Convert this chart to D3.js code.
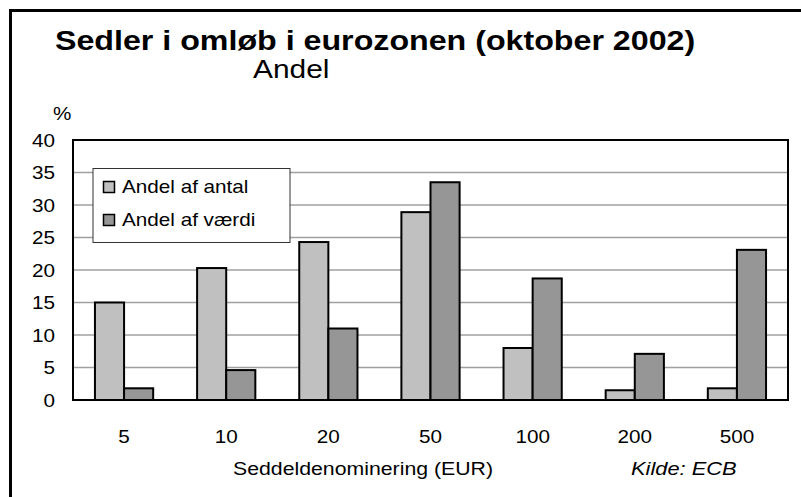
<!DOCTYPE html>
<html><head><meta charset="utf-8">
<script src="https://cdn.jsdelivr.net/npm/d3@7"></script>
<style>
html,body{margin:0;padding:0;background:#fff;}
svg{display:block;font-family:"Liberation Sans",Arial,sans-serif;}
</style></head>
<body>
<svg id="chart" width="801" height="497"></svg>
<script>
const categories = ["5","10","20","50","100","200","500"];
const seriesNames = ["Andel af antal","Andel af værdi"];
const antal = [15.0, 20.3, 24.3, 28.9, 8.0, 1.5, 1.8];
const vaerdi = [1.8, 4.6, 11.0, 33.5, 18.7, 7.1, 23.1];
const yTicks = [0,5,10,15,20,25,30,35,40];
const colors = ["#c0c0c0","#969696"];

const SX = 1.15;
const svg = d3.select("#chart");
const L = 73, R = 788, T = 140, B = 400;

const x = d3.scaleBand().domain(categories).range([L,R]).paddingInner(0.43).paddingOuter(0.215);
const xs = d3.scaleBand().domain(seriesNames).range([0, x.bandwidth()]);
const y = d3.scaleLinear().domain([0,40]).range([B,T]);

// outer frame (left + top)
svg.append("path").attr("d","M10.5,497 L10.5,10.5 L801,10.5").attr("fill","none").attr("stroke","#000").attr("stroke-width",3);

function txt(s, xPos, yPos, size, opts={}) {
  return svg.append("text")
    .attr("transform",`translate(${xPos},${yPos}) scale(${SX},1)`)
    .attr("font-size",size)
    .attr("font-weight",opts.bold?"bold":"normal")
    .attr("font-style",opts.italic?"italic":"normal")
    .attr("text-anchor",opts.anchor||"start")
    .attr("fill","#000")
    .text(s);
}

txt("Sedler i omløb i eurozonen (oktober 2002)", 55, 50, 28, {bold:true});
txt("Andel", 253, 78, 26);
txt("%", 53, 120, 18);

// gridlines
svg.append("g").selectAll("line").data(yTicks.filter(d=>d>0&&d<40)).join("line")
  .attr("x1",L).attr("x2",R).attr("y1",d=>y(d)).attr("y2",d=>y(d))
  .attr("stroke","#a0a0a0").attr("stroke-width",1.5);

// bars
const data = categories.map((c,i)=>({c, vals:[antal[i], vaerdi[i]]}));
const g = svg.append("g");
data.forEach(d=>{
  d.vals.forEach((v,j)=>{
    g.append("rect")
      .attr("x", x(d.c)+xs(seriesNames[j]))
      .attr("y", y(v))
      .attr("width", xs.bandwidth())
      .attr("height", y(0)-y(v))
      .attr("fill", colors[j])
      .attr("stroke","#000").attr("stroke-width",2);
  });
});

// plot border
svg.append("rect").attr("x",L).attr("y",T).attr("width",R-L).attr("height",B-T)
  .attr("fill","none").attr("stroke","#000").attr("stroke-width",2);

// y axis
const yAxis = svg.append("g").attr("transform",`translate(${L},0)`)
  .call(d3.axisLeft(y).tickValues(yTicks).tickSize(0).tickPadding(18));
yAxis.select(".domain").remove();
yAxis.selectAll("text").attr("x",null).attr("dy","0.36em")
  .attr("transform",`translate(-18,0) scale(${SX},1)`)
  .attr("font-size",18).attr("font-family","Liberation Sans, Arial, sans-serif").attr("fill","#000");

// x axis
const xAxis = svg.append("g").attr("transform",`translate(0,${B})`)
  .call(d3.axisBottom(x).tickSize(0).tickPadding(30));
xAxis.select(".domain").remove();
xAxis.selectAll("text").attr("transform",`scale(${SX},1)`)
  .attr("font-size",18).attr("font-family","Liberation Sans, Arial, sans-serif").attr("fill","#000");

txt("Seddeldenominering (EUR)", 233, 475, 18.5);
txt("Kilde: ECB", 631, 475, 19, {italic:true});

// legend
const lg = svg.append("g");
lg.append("rect").attr("x",93).attr("y",168.5).attr("width",197).attr("height",74)
  .attr("fill","#fff").attr("stroke","#333").attr("stroke-width",1);
seriesNames.forEach((n,i)=>{
  const yy = 181.5 + i*33;
  lg.append("rect").attr("x",103.5).attr("y",yy).attr("width",11).attr("height",11)
    .attr("fill",colors[i]).attr("stroke","#000").attr("stroke-width",1.5);
  txt(n, 122, yy+11, 18);
});
</script>
</body></html>
